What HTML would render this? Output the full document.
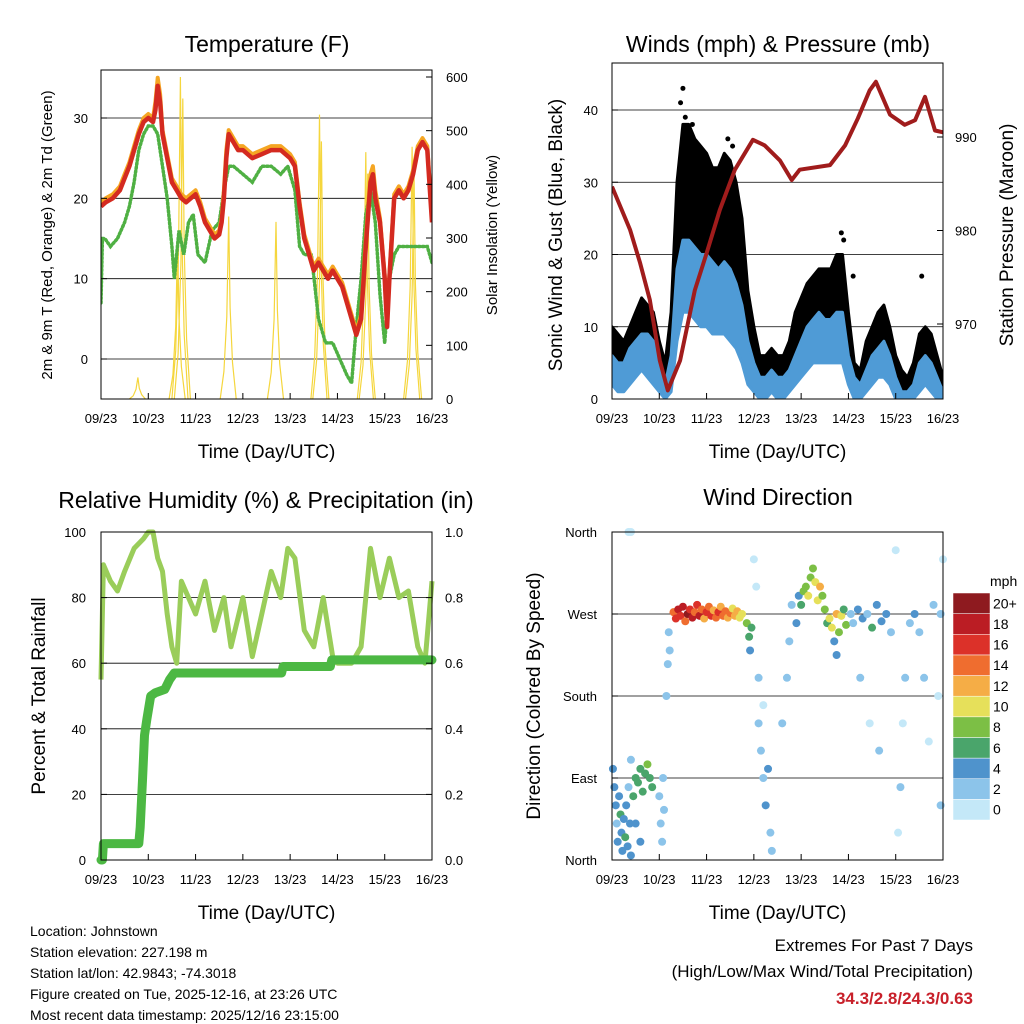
<!DOCTYPE html>
<html><head><meta charset="utf-8"><style>
body{margin:0;background:#fff}
svg{display:block;font-family:"Liberation Sans",sans-serif}
</style></head><body>
<svg id="c" width="1024" height="1024" viewBox="0 0 1024 1024">
<rect width="1024" height="1024" fill="#fff"/>
<g id="g1"></g>
<g id="g2"></g>
<g id="g3"></g>
<g id="g4"></g>
<g font-size="14" fill="#000">
<text x="30" y="936">Location: Johnstown</text>
<text x="30" y="957">Station elevation: 227.198 m</text>
<text x="30" y="978">Station lat/lon: 42.9843; -74.3018</text>
<text x="30" y="999">Figure created on Tue, 2025-12-16, at 23:26 UTC</text>
<text x="30" y="1020">Most recent data timestamp: 2025/12/16 23:15:00</text>
</g>
<g text-anchor="end">
<text x="973" y="951" font-size="17">Extremes For Past 7 Days</text>
<text x="973" y="977" font-size="17">(High/Low/Max Wind/Total Precipitation)</text>
<text x="973" y="1004" font-size="17" font-weight="bold" fill="#c8202a">34.3/2.8/24.3/0.63</text>
</g>
</svg>
<script>
// ---------- DATA ----------
const dayLabels=['09/23','10/23','11/23','12/23','13/23','14/23','15/23','16/23'];
const tT=[0,0.1,0.25,0.4,0.5,0.6,0.7,0.8,0.9,1.0,1.1,1.15,1.2,1.25,1.3,1.4,1.5,1.6,1.7,1.8,1.9,2.0,2.1,2.2,2.3,2.4,2.5,2.55,2.6,2.65,2.7,2.8,2.9,3.0,3.2,3.4,3.6,3.8,4.0,4.1,4.2,4.3,4.4,4.5,4.6,4.7,4.8,4.9,5.0,5.1,5.2,5.3,5.4,5.5,5.6,5.7,5.75,5.8,5.9,6.0,6.05,6.1,6.2,6.3,6.4,6.5,6.6,6.7,6.8,6.9,7.0];
const temp2m=[19,19.5,20,21,22.5,24,26,28,29.5,30,29.5,31,34,32,28,25,22,21,20,19.5,20,20.5,19,17,16,15,15.5,17,20,25,28,27,26,26,25,25.5,26,26,25,24,19,15,13,11,12,11,10,11,10,9,7,5,3,5,14,22,23,20,17,10,4,10,20,21,20,21,23,26,27,26,17];
const temp9m=[19.5,20,20.5,21.5,23,24.5,26.5,28.5,30,30.5,30,32,35,33,28.5,25.5,22.5,21.5,20.5,20,20.5,21,19.5,17.5,16.5,15.5,16,17.5,21,26,28.5,27.5,26.5,26.5,25.5,26,26.5,26.5,25.5,24.5,19.5,15.5,13.5,11.5,12.5,11.5,10.5,11.5,10.5,9.5,7.5,5.5,3.5,5.5,15,23,24,21,17.5,10.5,4.5,10.5,20.5,21.5,20.5,21.5,23.5,26.5,27.5,26.5,17.5];
const tTd=[0,0.03,0.08,0.2,0.35,0.5,0.6,0.7,0.8,0.9,1.0,1.1,1.2,1.3,1.4,1.5,1.55,1.65,1.75,1.85,1.95,2.05,2.2,2.35,2.5,2.6,2.7,2.8,3.0,3.2,3.4,3.6,3.8,3.95,4.1,4.2,4.3,4.45,4.6,4.75,4.9,5.05,5.2,5.3,5.4,5.5,5.6,5.7,5.8,5.9,6.0,6.1,6.2,6.3,6.5,6.7,6.9,7.0];
const dewpt=[7,15,15,14,15,17,19,22,26,28,29,29,28,24,20,14,10,16,13,17,18,13,12,16,17,21,24,24,23,22,24,24,23,24,21,14,13,13,5,2,2,0,-2,-3,4,10,18,21,17,8,2,10,13,14,14,14,14,12];
const solarT=[0.78,1.62,1.68,1.73,2.7,3.7,4.62,4.66,5.6,5.64,6.58,6.62];
const solarV=[40,300,600,560,340,330,530,480,460,420,470,430];
const tW=[0,0.125,0.25,0.375,0.5,0.625,0.75,0.875,1,1.125,1.25,1.375,1.5,1.625,1.75,1.875,2,2.125,2.25,2.375,2.5,2.625,2.75,2.875,3,3.125,3.25,3.375,3.5,3.625,3.75,3.875,4,4.125,4.25,4.375,4.5,4.625,4.75,4.875,5,5.125,5.25,5.375,5.5,5.625,5.75,5.875,6,6.125,6.25,6.375,6.5,6.625,6.75,6.875,7];
const gustHi=[10,9,8,10,12,14,13,12,8,5,12,30,38,38,36,35,34,32,32,34,33,30,25,15,10,6,6,7,6,6,8,12,14,16,17,18,18,18,20,20,12,5,4,8,10,12,13,10,6,4,3,5,9,10,9,6,3];
const gustLo=[4,3,3,5,6,7,7,5,3,1,4,15,20,20,19,18,18,17,16,17,16,14,10,6,3,1,1,2,1,1,2,4,6,8,9,10,9,9,10,10,4,1,1,2,4,5,6,4,1,0,0,1,3,4,3,1,0];
const windHi=[6,5,5,7,8,9,9,8,5,2,6,18,22,22,21,20,20,19,18,19,18,16,13,8,5,3,3,4,3,3,4,6,8,10,11,12,11,11,12,12,6,3,2,4,6,7,8,6,3,1,1,2,5,6,5,3,1];
const windLo=[2,1,1,2,3,4,3,2,1,0,1,8,12,12,11,10,10,9,9,9,8,7,5,2,1,0,0,1,0,0,1,2,3,4,5,5,5,5,5,5,2,0,0,1,2,3,3,2,0,0,0,0,1,2,1,0,0];
const gustPeakT=[1.45,1.5,1.55,1.7,2.45,2.55,4.85,4.9,5.1,6.55];
const gustPeakV=[41,43,39,38,36,35,23,22,17,17];
const tPres=[0,0.38,0.59,0.8,1.01,1.18,1.44,1.75,1.99,2.28,2.6,2.98,3.23,3.55,3.8,3.97,4.61,4.93,5.2,5.45,5.58,5.88,6.19,6.41,6.62,6.83,7.0];
const pres=[984.7,980.1,976.6,972.6,966.1,962.9,966.1,973.6,977.4,982.2,986.5,989.7,989.1,987.5,985.4,986.5,987.0,989.1,992.0,995.0,995.9,992.4,991.3,991.8,994.3,990.7,990.5];
const tRH=[0,0.05,0.2,0.35,0.5,0.7,0.9,1.0,1.1,1.2,1.3,1.4,1.5,1.6,1.7,1.85,2.0,2.2,2.4,2.6,2.75,3.0,3.2,3.4,3.6,3.8,3.95,4.1,4.3,4.5,4.7,4.9,5.0,5.3,5.5,5.7,5.9,6.1,6.3,6.5,6.7,6.85,7.0];
const rh=[55,90,85,82,88,95,98,100,100,92,88,75,65,60,85,80,75,85,70,80,65,80,62,75,88,80,95,92,70,65,80,62,60,60,65,95,80,92,80,82,65,60,85];
const tP=[0,0.03,0.05,0.8,0.83,0.88,0.92,0.97,1.05,1.15,1.35,1.45,1.55,3.82,3.85,4.85,4.88,7.0];
const precip=[0,0,0.05,0.05,0.1,0.25,0.38,0.43,0.5,0.51,0.52,0.55,0.57,0.57,0.59,0.59,0.61,0.61];
const wdT=[0.02,0.05,0.08,0.1,0.12,0.15,0.18,0.2,0.22,0.25,0.28,0.3,0.33,0.35,0.38,0.4,0.45,0.5,0.55,0.6,0.65,0.7,0.75,0.8,0.85,0.5,0.6,0.4,0.35,0.4,1.0,1.03,1.06,1.08,1.1,1.15,1.18,1.2,1.22,1.3,1.35,1.4,1.45,1.5,1.55,1.6,1.65,1.7,1.75,1.8,1.85,1.9,1.95,2.0,2.05,2.1,2.15,2.2,2.25,2.3,2.35,2.4,2.45,2.5,2.55,2.6,2.65,2.7,2.75,2.85,2.9,2.92,2.95,3.0,3.05,3.1,3.15,3.2,3.25,3.3,3.35,3.38,3.1,3.2,3.6,3.7,3.75,3.8,3.9,3.95,4.0,4.05,4.1,4.15,4.2,4.25,4.3,4.35,4.4,4.45,4.5,4.55,4.6,4.65,4.7,4.75,4.8,4.85,4.9,4.95,4.75,5.05,5.1,5.2,5.3,5.4,5.5,5.6,5.7,5.8,5.9,5.25,5.45,5.65,6.0,6.05,6.1,6.15,6.2,6.3,6.4,6.5,6.6,6.7,6.8,6.9,6.95,7.0,6.95];
const wdDir=[100,80,60,40,20,70,50,30,10,45,25,60,15,80,40,110,70,90,85,100,75,95,105,90,80,40,20,5,360,360,70,40,20,90,55,180,215,250,230,272,265,275,268,278,262,270,275,266,272,280,268,275,265,272,278,268,274,266,272,278,268,273,266,271,276,268,273,266,270,260,245,230,255,330,300,150,120,90,60,100,30,10,200,170,150,200,240,280,260,290,280,295,300,290,310,320,305,285,300,290,275,260,265,255,240,270,250,268,275,258,225,270,260,275,265,270,255,280,262,270,250,200,150,120,340,30,80,150,200,260,270,250,200,130,280,180,60,330,270];
const wdSpd=[4,5,4,3,5,4,6,5,4,5,6,5,4,3,5,3,6,7,6,7,6,7,8,6,7,5,5,4,1,1,3,3,3,2,3,2,2,3,2,14,17,18,16,19,15,20,17,18,14,16,18,15,13,16,14,17,12,15,16,13,14,15,12,14,11,13,12,11,10,8,6,5,7,1,1,2,3,3,4,4,3,2,2,1,2,3,3,2,4,5,7,8,9,10,8,9,11,10,12,9,8,6,10,11,5,12,9,10,7,8,4,3,2,4,5,3,6,4,5,4,3,2,1,2,1,1,2,1,2,3,4,3,2,1,3,1,2,1,2];
const speedColors=['#c4e8f8','#8cc4ea','#4f93cc','#4aa56b','#7cbf45','#e6e05a','#f5ad46','#ef6d2f','#dc3129','#bb1d24','#8e1a1f'];
const speedLabels=['0','2','4','6','8','10','12','14','16','18','20+'];

// ---------- HELPERS ----------
const NS='http://www.w3.org/2000/svg';
function mk(parent,tag,attrs,text){const e=document.createElementNS(NS,tag);for(const k in attrs)e.setAttribute(k,attrs[k]);if(text!==undefined)e.textContent=text;parent.appendChild(e);return e;}
function lin(d0,d1,r0,r1){return v=>r0+(v-d0)*(r1-r0)/(d1-d0);}
function pts(ts,vs,sx,sy){let s='';const n=Math.min(ts.length,vs.length);for(let i=0;i<n;i++)s+=sx(ts[i]).toFixed(1)+','+sy(vs[i]).toFixed(1)+' ';return s;}
function frame(g,L,T,R,B,name){
  const r=mk(g,'rect',{x:L,y:T,width:R-L,height:B-T,fill:'none',stroke:'#000','stroke-width':1});
  
  
}
function xaxis(g,L,R,B,name){
  const sx=lin(0,7,L,R);
  for(let i=0;i<dayLabels.length;i++){
    const x=sx(i);
    const tk=mk(g,'line',{x1:x,y1:B,x2:x,y2:B-6,stroke:'#000'});
    
    
    const t=mk(g,'text',{x:x,y:B+24,'font-size':13,'text-anchor':'middle'},dayLabels[i]);
    
    
  }
  const tt=mk(g,'text',{x:(L+R)/2,y:B+59,'font-size':19,'text-anchor':'middle'},'Time (Day/UTC)');
  
  
}
function grid(g,L,R,sy,vals){for(const v of vals){const l=mk(g,'line',{x1:L,x2:R,y1:sy(v),y2:sy(v),stroke:'#000','stroke-width':0.8});}}
function yticks(g,x,sy,vals,labels,anchor,tickX,dir){
  vals.forEach((v,i)=>{
    const tk=mk(g,'line',{x1:tickX,x2:tickX+dir*6,y1:sy(v),y2:sy(v),stroke:'#000'});
    
    
    const t=mk(g,'text',{x:x,y:sy(v)+5,'font-size':13,'text-anchor':anchor},labels[i]);
    
    
  });
}
function vlabel(g,x,y,size,txt,name){const t=mk(g,'text',{x:x,y:y,'font-size':size,'text-anchor':'middle',transform:`rotate(-90 ${x} ${y})`},txt);}
function title(g,x,y,txt,name){const t=mk(g,'text',{x:x,y:y,'font-size':23,'text-anchor':'middle'},txt);}

// ---------- PANEL 1: Temperature ----------
(function(){
  const g=document.getElementById('g1');
  const L=101,R=432,T=70,B=399;
  const sx=lin(0,7,L,R), sy=lin(0,30,359,118), ss=lin(0,600,399,77);
  const clip=mk(g,'clipPath',{id:'cp1'});mk(clip,'rect',{x:L,y:T,width:R-L,height:B-T});
  grid(g,L,R,sy,[0,10,20,30]);
  const pg=mk(g,'g',{'clip-path':'url(#cp1)'});
  solarT.forEach((t,i)=>{
    const v=solarV[i];
    const p=mk(pg,'polyline',{points:pts([t-0.18,t-0.1,t-0.04,t,t+0.03,t+0.08,t+0.16],[0,v*0.15,v*0.45,v,v*0.5,v*0.2,0],sx,ss),fill:'none',stroke:'#f5d63d','stroke-width':1.2});
    
    
  });
  const gd=mk(pg,'polyline',{points:pts(tTd,dewpt,sx,sy),fill:'none',stroke:'#4fb043','stroke-width':3.5,'stroke-dasharray':'1.5 2.5','stroke-linecap':'round'});
  
  
  const o=mk(pg,'polyline',{points:pts(tT,temp9m,sx,sy),fill:'none',stroke:'#f5a623','stroke-width':4,'stroke-linejoin':'round'});
  
  
  const r=mk(pg,'polyline',{points:pts(tT,temp2m,sx,sy),fill:'none',stroke:'#d42a20','stroke-width':4.5,'stroke-linejoin':'round'});
  
  
  frame(g,L,T,R,B,'temperature');
  yticks(g,88,sy,[0,10,20,30],['0','10','20','30'],'end',L,1);
  yticks(g,446,ss,[0,100,200,300,400,500,600],['0','100','200','300','400','500','600'],'start',R,-1);
  xaxis(g,L,R,B,'temperature');
  title(g,267,52,'Temperature (F)','temperature-title');
  vlabel(g,52,235,15,'2m & 9m T (Red, Orange) & 2m Td (Green)','temperature-y-axis-title');
  vlabel(g,497,235,15,'Solar Insolation (Yellow)','solar-y-axis-title');
})();

// ---------- PANEL 2: Winds ----------
(function(){
  const g=document.getElementById('g2');
  const L=612,R=943,T=63,B=399;
  const sx=lin(0,7,L,R), sy=lin(0,40,399,110), sp=lin(970,990,324,137);
  const clip=mk(g,'clipPath',{id:'cp2'});mk(clip,'rect',{x:L,y:T,width:R-L,height:B-T});
  grid(g,L,R,sy,[10,20,30,40]);
  const pg=mk(g,'g',{'clip-path':'url(#cp2)'});
  function band(hi,lo,color,name){
    const s=pts(tW,hi,sx,sy)+pts(tW.slice().reverse(),lo.slice().reverse(),sx,sy);
    const p=mk(pg,'polygon',{points:s,fill:color,stroke:color,'stroke-width':3,'stroke-linejoin':'round'});
    
    
  }
  band(gustHi,gustLo,'#000','gust-band');
  gustPeakT.forEach((t,i)=>{const c=mk(pg,'circle',{cx:sx(t),cy:sy(gustPeakV[i]),r:2.5,fill:'#000'});});
  band(windHi,windLo,'#4f9bd6','wind-band');
  const pl=mk(pg,'polyline',{points:pts(tPres,pres,sx,sp),fill:'none',stroke:'#a01c1c','stroke-width':4,'stroke-linejoin':'round'});
  
  
  frame(g,L,T,R,B,'winds');
  yticks(g,598,sy,[0,10,20,30,40],['0','10','20','30','40'],'end',L,1);
  yticks(g,955,sp,[970,980,990],['970','980','990'],'start',R,-1);
  xaxis(g,L,R,B,'winds');
  title(g,778,52,'Winds (mph) & Pressure (mb)','winds-title');
  vlabel(g,562,235,19,'Sonic Wind & Gust (Blue, Black)','winds-y-axis-title');
  vlabel(g,1013,235,19,'Station Pressure (Maroon)','pressure-y-axis-title');
})();

// ---------- PANEL 3: RH & Precip ----------
(function(){
  const g=document.getElementById('g3');
  const L=101,R=432,T=532,B=860;
  const sx=lin(0,7,L,R), sy=lin(0,100,860,532), sp=lin(0,1,860,532);
  grid(g,L,R,sy,[20,40,60,80]);
  const rl=mk(g,'polyline',{points:pts(tRH,rh,sx,sy),fill:'none',stroke:'#9acd5a','stroke-width':5,'stroke-linejoin':'round'});
  
  
  const pl=mk(g,'polyline',{points:pts(tP,precip,sx,sp),fill:'none',stroke:'#4cb843','stroke-width':9,'stroke-linejoin':'round','stroke-linecap':'round'});
  
  
  frame(g,L,T,R,B,'humidity');
  yticks(g,86,sy,[0,20,40,60,80,100],['0','20','40','60','80','100'],'end',L,1);
  yticks(g,445,sp,[0,0.2,0.4,0.6,0.8,1.0],['0.0','0.2','0.4','0.6','0.8','1.0'],'start',R,-1);
  xaxis(g,L,R,B,'humidity');
  title(g,266,508,'Relative Humidity (%) & Precipitation (in)','humidity-title');
  vlabel(g,45,696,19,'Percent & Total Rainfall','humidity-y-axis-title');
})();

// ---------- PANEL 4: Wind Direction ----------
(function(){
  const g=document.getElementById('g4');
  const L=612,R=943,T=532,B=860;
  const sx=lin(0,7,L,R), sy=lin(0,360,860,532);
  grid(g,L,R,sy,[90,180,270]);
  const n=Math.min(wdT.length,wdDir.length,wdSpd.length);
  for(let i=0;i<n;i++){
    const b=Math.min(10,Math.floor(wdSpd[i]/2));
    const c=mk(g,'circle',{cx:sx(wdT[i]),cy:sy(wdDir[i]),r:4,fill:speedColors[b]});
    
    
  }
  frame(g,L,T,R,B,'direction');
  yticks(g,597,sy,[0,90,180,270,360],['North','East','South','West','North'],'end',L,1);
  xaxis(g,L,R,B,'direction');
  title(g,778,505,'Wind Direction','direction-title');
  vlabel(g,540,696,19,'Direction (Colored By Speed)','direction-y-axis-title');
  const lg=mk(g,'g',{});
  
  
  const top=593,bh=(820-593)/11;
  for(let i=0;i<11;i++){
    const y=820-(i+1)*bh;
    const r=mk(lg,'rect',{x:953,y:y,width:37,height:bh,fill:speedColors[i],stroke:'#fff','stroke-width':0.5});
    
    
    const t=mk(lg,'text',{x:993,y:y+bh/2+5,'font-size':14},speedLabels[i]);
    
    
  }
  const u=mk(lg,'text',{x:990,y:586,'font-size':14},'mph');
  
  
})();
</script>
</body></html>
